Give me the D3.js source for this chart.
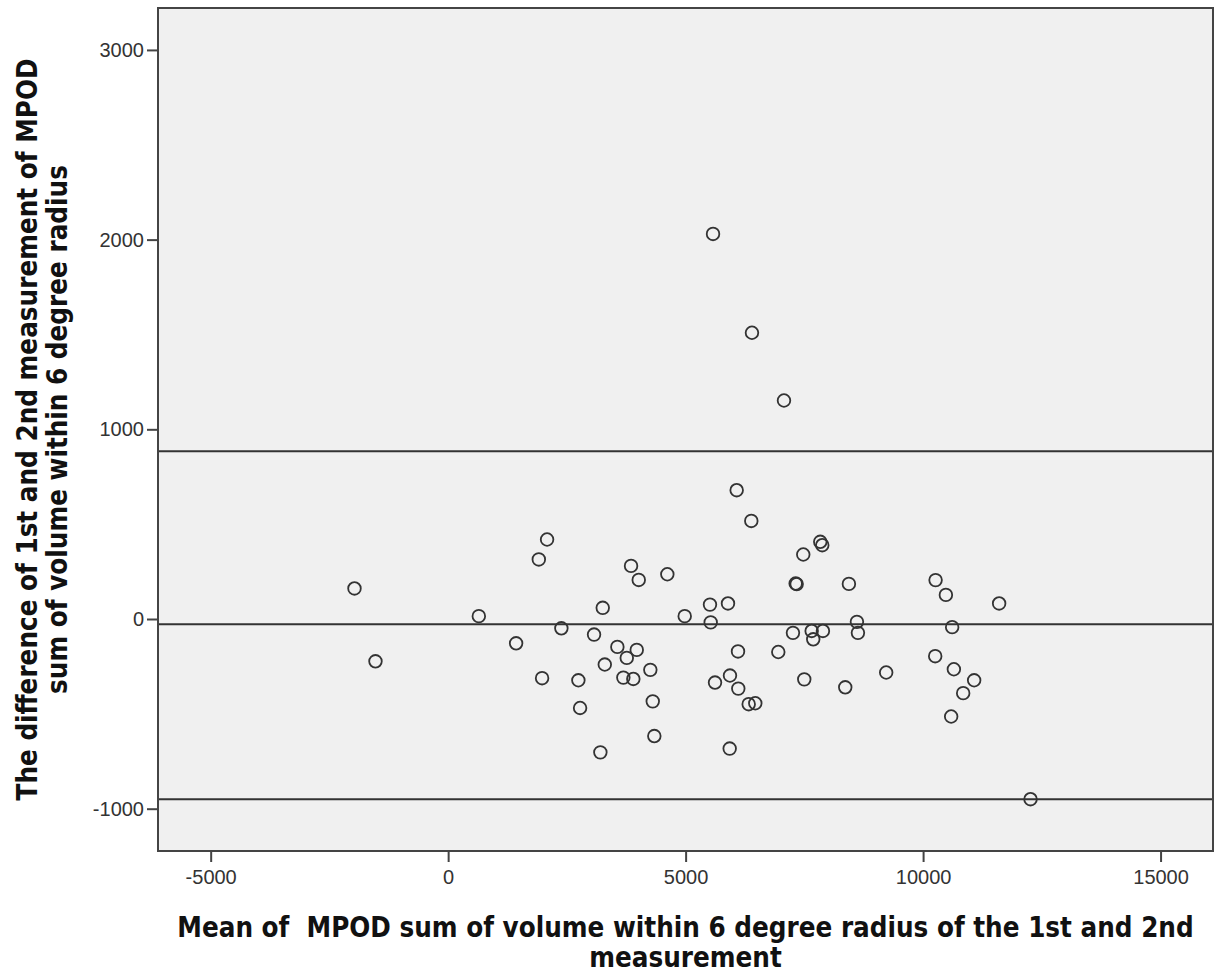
<!DOCTYPE html>
<html>
<head>
<meta charset="utf-8">
<script src="https://cdn.jsdelivr.net/npm/d3@7"></script>
<style>
  body { margin: 0; background: #fff; }
</style>
</head>
<body>
<div id="plot"></div>
<script>
// Bland-Altman data: mean of the two measurements (x) and their difference (y)
const meanValues = [
  -1972, -1530, 646, 1431, 1909, 2083, 1978, 2384, 2742, 2778,
  3072, 3205, 3255, 3298, 3563, 3971, 3761, 3689, 3899, 3851,
  4013, 4257, 4308, 4341, 4615, 4981, 5513, 5528, 5619, 5577,
  5892, 5934, 5928, 6075, 6103, 6109, 6328, 6383, 6397, 6467,
  6951, 7071, 7260, 7317, 7338, 7477, 7498, 7654, 7687, 7891,
  7835, 7877, 8361, 8438, 8607, 8628, 9223, 10263, 10255, 10480,
  10612, 10648, 10591, 10844, 11075, 11601, 12262
];
const diffValues = [
  161, -223, 15, -128, 314, 419, -312, -49, -323, -469,
  -82, -703, 59, -240, -147, -163, -205, -309, -316, 280,
  206, -268, -434, -617, 236, 15, 76, -18, -335, 2030,
  82, -298, -683, 679, -171, -367, -449, 517, 1509, -444,
  -174, 1152, -73, 187, 184, 340, -318, -63, -107, -63,
  407, 389, -360, 185, -15, -73, -282, 205, -196, 127,
  -43, -265, -514, -391, -323, 82, -950
];
// upper limit, mean difference, lower limit
const refLines = [885, -27, -950];

const xTicks = [-5000, 0, 5000, 10000, 15000];
const yTicks = [3000, 2000, 1000, 0, -1000];

const xTitle = ["Mean of \u00a0MPOD sum of volume within 6 degree radius of the 1st and 2nd", "measurement"];
const yTitle = ["The difference of 1st and 2nd measurement of MPOD", "sum of volume within 6 degree radius"];

const data = meanValues.map((m, i) => ({ mean: m, diff: diffValues[i] }));

const W = 1221, H = 973;
const margin = { top: 8, right: 8, bottom: 122, left: 158 };
const width = W - margin.left - margin.right,
      height = H - margin.top - margin.bottom;

const svg = d3.select("#plot").append("svg")
    .attr("width", W)
    .attr("height", H);

const g = svg.append("g")
    .attr("transform", `translate(${margin.left},${margin.top})`);

const x = d3.scaleLinear().domain([-6109, 16104]).range([0, width]);
const y = d3.scaleLinear().domain([-1223, 3221]).range([height, 0]);

// plot background
g.append("rect")
    .attr("width", width)
    .attr("height", height)
    .attr("fill", "#f0f0f0");

// reference lines
g.selectAll(".ref")
    .data(refLines)
    .enter()
    .append("line")
    .attr("x1", 0)
    .attr("x2", width)
    .attr("y1", d => y(d))
    .attr("y2", d => y(d))
    .attr("stroke", "#333")
    .attr("stroke-width", 2);

// points
g.selectAll(".pt")
    .data(data)
    .enter()
    .append("circle")
    .attr("cx", d => x(d.mean))
    .attr("cy", d => y(d.diff))
    .attr("r", 6.3)
    .attr("fill", "none")
    .attr("stroke", "#333")
    .attr("stroke-width", 1.8);

// frame
g.append("rect")
    .attr("width", width)
    .attr("height", height)
    .attr("fill", "none")
    .attr("stroke", "#444")
    .attr("stroke-width", 2);

// axes (plain hyphen for negatives, like the original)
const fmt = d => String(d);
const xAxis = g.append("g")
    .attr("transform", `translate(0,${height})`)
    .call(d3.axisBottom(x).tickValues(xTicks).tickSize(11).tickPadding(8).tickFormat(fmt));
const yAxis = g.append("g")
    .call(d3.axisLeft(y).tickValues(yTicks).tickSize(11).tickPadding(3).tickFormat(fmt));

[xAxis, yAxis].forEach(a => {
    a.select(".domain").remove();
    a.selectAll(".tick line").attr("stroke", "#444").attr("stroke-width", 2);
    a.selectAll(".tick text")
        .attr("fill", "#333")
        .style("font-family", "'Liberation Sans', Arial, sans-serif")
        .style("font-size", "20px");
});

// axis titles
const titleFont = "'DejaVu Sans Condensed', 'DejaVu Sans', Verdana, sans-serif";
function styleTitle(t) {
    t.style("font-family", titleFont)
        .style("font-stretch", "condensed")
        .style("font-weight", "bold")
        .style("font-size", "27.5px")
        .attr("fill", "#111");
}

svg.append("text")
    .attr("x", margin.left + width / 2)
    .attr("y", 937)
    .attr("text-anchor", "middle")
    .call(styleTitle)
    .selectAll("tspan")
    .data(xTitle)
    .enter()
    .append("tspan")
    .attr("x", margin.left + width / 2)
    .attr("dy", (d, i) => i === 0 ? 0 : 30)
    .text(d => d);

svg.append("text")
    .attr("transform", `translate(37,${margin.top + height / 2}) rotate(-90)`)
    .attr("text-anchor", "middle")
    .call(styleTitle)
    .selectAll("tspan")
    .data(yTitle)
    .enter()
    .append("tspan")
    .attr("x", 0)
    .attr("dy", (d, i) => i === 0 ? 0 : 30)
    .text(d => d);
</script>
</body>
</html>
